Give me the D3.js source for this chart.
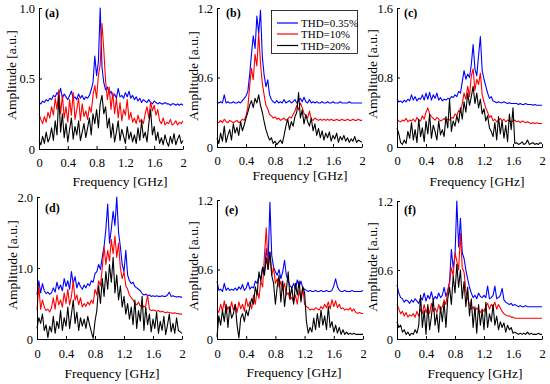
<!DOCTYPE html>
<html>
<head>
<meta charset="utf-8">
<script src="https://cdn.jsdelivr.net/npm/d3@7"></script>
<style>
  body { margin: 0; background: #fff; }
  svg { display: block; }
  svg text { font-family: "Liberation Serif", "Times New Roman", serif !important; fill: #000; }
</style>
</head>
<body>
<script>
// spectra sampled every 0.025 GHz from 0 to 2 GHz (81 points)
const freqStep = 0.025
const serif = '"Liberation Serif", "Times New Roman", serif'
const seriesNames = ['THD=0.35%', 'THD=10%', 'THD=20%']
const panelLabels = ['(a)', '(b)', '(c)', '(d)', '(e)', '(f)']
const xTickValues = [0, 0.4, 0.8, 1.2, 1.6, 2]
const xTickLabels = ['0', '0.4', '0.8', '1.2', '1.6', '2']
const yMaxes = [1.0, 1.2, 1.6, 2.0, 1.2, 1.2]
const yTickValues = [[0, 0.5, 1.0], [0, 0.6, 1.2], [0, 0.8, 1.6], [0, 1.0, 2.0], [0, 0.6, 1.2], [0, 0.6, 1.2]]
const yTickLabels = [['0', '0.5', '1.0'], ['0', '0.6', '1.2'], ['0', '0.8', '1.6'], ['0', '1.0', '2.0'], ['0', '0.6', '1.2'], ['0', '0.6', '1.2']]

const ampA035 = [0.33,0.32,0.34,0.33,0.35,0.34,0.36,0.35,0.38,0.37,0.40,0.38,0.43,
  0.36,0.39,0.37,0.35,0.38,0.41,0.36,0.37,0.35,0.39,0.36,0.38,0.35,0.37,0.36,0.38,
  0.42,0.47,0.66,0.52,0.62,1.00,0.58,0.47,0.42,0.44,0.39,0.41,
  0.37,0.39,0.36,0.43,0.37,0.38,0.36,0.40,0.37,0.41,0.36,0.38,
  0.35,0.37,0.34,0.36,0.33,0.35,0.34,0.33,0.35,0.33,0.32,0.34,
  0.33,0.32,0.33,0.32,0.32,0.33,0.32,0.32,0.31,0.32,0.32,0.31,0.32,0.31,0.32,0.31]
const ampA10 = [0.25,0.21,0.18,0.23,0.19,0.26,0.22,0.30,0.24,0.36,0.28,0.42,0.25,
  0.38,0.22,0.30,0.19,0.35,0.24,0.40,0.21,0.28,0.36,0.20,0.32,0.23,0.27,0.21,0.30,
  0.26,0.38,0.45,0.36,0.52,0.60,0.89,0.70,0.48,0.35,0.44,0.28,
  0.40,0.25,0.36,0.22,0.33,0.20,0.28,0.24,0.35,0.21,0.26,0.19,
  0.22,0.18,0.24,0.19,0.21,0.18,0.25,0.30,0.22,0.33,0.27,0.31,
  0.24,0.28,0.20,0.18,0.22,0.17,0.19,0.18,0.21,0.17,0.18,0.20,0.17,0.19,0.18,0.20]
const ampA20 = [0.06,0.03,0.09,0.04,0.12,0.05,0.08,0.15,0.06,0.20,0.10,0.38,0.12,
  0.25,0.08,0.18,0.05,0.14,0.22,0.07,0.16,0.10,0.20,0.06,0.12,0.18,0.08,0.15,0.22,
  0.10,0.25,0.18,0.28,0.15,0.32,0.38,0.25,0.30,0.15,0.22,0.08,
  0.18,0.05,0.12,0.20,0.06,0.14,0.09,0.04,0.16,0.07,0.12,0.05,
  0.10,0.04,0.15,0.06,0.20,0.08,0.12,0.05,0.18,0.28,0.10,0.16,
  0.06,0.12,0.04,0.08,0.03,0.10,0.05,0.02,0.09,0.04,0.11,0.03,0.07,0.10,0.04,0.06]

const ampB035 = [0.39,0.38,0.39,0.38,0.45,0.38,0.39,0.38,0.38,0.39,0.38,0.38,0.39,
  0.38,0.40,0.42,0.44,
  0.48,0.62,0.80,0.96,0.85,1.13,0.98,1.18,0.78,0.62,0.52,0.58,0.45,0.41,
  0.39,0.38,0.40,0.38,0.39,0.38,0.41,0.38,0.39,0.40,
  0.38,0.39,0.41,0.38,0.40,0.42,0.39,0.43,0.39,0.38,
  0.41,0.38,0.39,0.38,0.39,0.38,0.38,0.39,0.38,0.38,
  0.39,0.38,0.38,0.39,0.38,0.38,0.38,0.39,0.38,0.38,
  0.38,0.38,0.39,0.38,0.38,0.38,0.38,0.38,0.38,0.38]
const ampB10 = [0.22,0.21,0.23,0.21,0.24,0.22,0.21,0.23,0.22,0.21,0.22,0.23,0.21,
  0.22,0.24,0.23,0.27,
  0.34,0.52,0.68,0.58,0.80,0.70,0.98,0.72,0.55,0.45,0.36,0.33,0.28,0.27,
  0.25,0.26,0.24,0.25,0.23,0.24,0.25,0.23,0.24,0.26,
  0.25,0.28,0.31,0.36,0.32,0.38,0.34,0.29,0.27,0.25,
  0.31,0.24,0.23,0.25,0.24,0.23,0.24,0.23,0.24,0.23,
  0.24,0.23,0.24,0.23,0.23,0.24,0.23,0.23,0.24,0.23,
  0.23,0.24,0.23,0.23,0.24,0.23,0.23,0.24,0.23,0.23]
const ampB20 = [0.08,0.03,0.12,0.05,0.18,0.04,0.10,0.15,0.06,0.20,0.12,0.17,0.10,
  0.22,0.14,0.19,0.25,
  0.30,0.36,0.40,0.34,0.42,0.38,0.45,0.36,0.30,0.22,0.15,0.10,0.06,0.08,
  0.03,0.05,0.02,0.04,0.06,0.03,0.10,0.18,0.24,0.15,
  0.22,0.18,0.26,0.30,0.47,0.25,0.32,0.20,0.28,0.22,
  0.18,0.25,0.14,0.20,0.10,0.16,0.08,0.14,0.06,0.12,
  0.08,0.13,0.05,0.10,0.07,0.12,0.04,0.09,0.06,0.10,
  0.05,0.08,0.04,0.07,0.05,0.09,0.04,0.06,0.05,0.04]

const ampC035 = [0.55,0.52,0.53,0.51,0.54,0.52,0.55,0.53,
  0.60,0.54,0.58,0.53,0.56,0.55,0.60,0.54,0.62,0.55,0.63,0.54,0.60,0.56,0.62,0.54,0.57,
  0.53,0.55,0.54,0.56,0.55,0.58,0.57,0.60,
  0.58,0.64,0.62,0.75,0.88,0.78,0.84,0.80,0.95,1.18,0.90,0.82,1.05,1.27,0.88,0.78,0.70,0.62,0.56,0.58,
  0.53,0.52,0.51,0.52,0.51,0.51,0.52,0.51,0.50,0.51,0.50,0.50,
  0.50,0.50,0.49,0.50,0.49,0.49,0.50,0.49,0.49,0.49,0.48,0.49,0.48,0.48,0.48,0.48]
const ampC10 = [0.32,0.30,0.29,0.31,0.30,0.33,0.29,0.31,
  0.30,0.32,0.29,0.34,0.31,0.30,0.36,0.32,0.40,0.45,0.38,0.35,0.33,0.31,0.34,0.32,0.30,
  0.31,0.33,0.30,0.32,0.31,0.34,0.33,0.38,
  0.36,0.42,0.40,0.50,0.62,0.55,0.70,0.58,0.82,0.90,0.65,0.78,0.72,0.85,0.60,0.52,0.45,0.40,0.34,0.36,
  0.30,0.32,0.29,0.31,0.33,0.30,0.32,0.29,0.31,0.30,0.29,0.30,
  0.31,0.29,0.30,0.28,0.30,0.29,0.28,0.29,0.28,0.27,0.28,0.27,0.28,0.27,0.27,0.27]
const ampC20 = [0.22,0.15,0.05,0.03,0.08,0.04,0.18,0.10,
  0.28,0.08,0.20,0.05,0.32,0.12,0.22,0.06,0.30,0.15,0.38,0.10,0.25,0.18,0.08,0.30,0.14,
  0.20,0.12,0.35,0.22,0.55,0.18,0.30,0.24,
  0.36,0.28,0.45,0.32,0.52,0.40,0.62,0.48,0.58,0.70,0.50,0.62,0.45,0.55,0.38,0.44,0.30,0.36,0.22,0.18,
  0.12,0.28,0.08,0.35,0.15,0.30,0.10,0.25,0.06,0.38,0.20,0.45,
  0.04,0.05,0.03,0.04,0.06,0.03,0.04,0.08,0.03,0.04,0.05,0.03,0.04,0.03,0.05,0.04]

const ampD035 = [0.62,0.82,0.65,0.78,0.68,0.64,0.66,0.63,0.65,
  0.72,0.66,0.80,0.70,0.76,0.68,0.85,0.74,0.82,0.70,0.95,0.78,0.88,0.72,0.80,0.74,
  0.70,0.76,0.72,0.78,0.75,0.82,0.80,0.92,
  0.95,1.05,0.98,1.15,1.30,1.55,1.90,1.35,1.55,1.80,1.60,2.00,1.50,1.30,1.05,0.95,1.25,0.90,0.82,0.78,
  0.80,0.74,0.72,0.70,0.68,0.64,0.62,0.63,0.61,0.62,0.60,0.61,
  0.60,0.61,0.60,0.60,0.61,0.60,0.60,0.62,0.66,0.60,0.61,0.60,0.59,0.60,0.59,0.59]
const ampD10 = [0.40,0.75,0.42,0.55,0.45,0.40,0.42,0.38,0.44,
  0.58,0.42,0.62,0.48,0.55,0.45,0.65,0.50,0.70,0.48,0.60,0.82,0.55,0.62,0.48,0.58,
  0.45,0.50,0.46,0.52,0.48,0.55,0.50,0.70,
  0.62,0.82,0.75,1.00,1.30,1.05,1.25,1.10,1.40,1.20,1.45,1.15,1.35,1.00,0.85,0.95,0.75,0.70,0.62,0.58,
  0.55,0.50,0.48,0.52,0.46,0.48,0.45,0.47,0.62,0.42,0.40,0.41,
  0.40,0.39,0.40,0.38,0.39,0.38,0.37,0.38,0.37,0.37,0.36,0.37,0.36,0.36,0.35,0.35]
const ampD20 = [0.15,0.30,0.22,0.35,0.12,0.20,0.02,0.18,0.10,
  0.32,0.08,0.25,0.15,0.40,0.12,0.30,0.18,0.45,0.15,0.35,0.55,0.22,0.38,0.12,0.30,
  0.18,0.28,0.15,0.32,0.20,0.10,0.01,0.25,
  0.40,0.75,0.50,0.85,0.60,0.95,0.70,1.05,0.80,1.15,0.65,0.90,0.55,0.75,0.45,0.60,0.35,0.50,0.28,0.45,
  0.20,0.55,0.15,0.40,0.25,0.60,0.12,0.45,0.20,0.35,0.10,0.28,
  0.15,0.38,0.08,0.25,0.12,0.32,0.06,0.20,0.35,0.10,0.22,0.08,0.30,0.12,0.10,0.08]

const ampE035 = [0.50,0.42,0.43,0.41,0.48,0.42,0.44,0.42,0.43,
  0.42,0.44,0.42,0.45,0.43,0.47,0.42,0.44,0.49,0.43,0.45,0.44,0.50,0.48,0.55,0.52,
  0.62,0.58,0.78,0.65,1.18,0.72,0.62,0.58,
  0.55,0.60,0.52,0.58,0.68,0.55,0.50,0.46,0.44,0.48,0.43,0.51,0.45,0.50,0.44,0.43,0.42,0.41,0.42,0.41,
  0.41,0.42,0.41,0.41,0.42,0.41,0.41,0.42,0.41,0.41,0.42,0.46,
  0.52,0.45,0.42,0.41,0.41,0.42,0.41,0.41,0.41,0.42,0.41,0.41,0.41,0.41,0.41,0.42]
const ampE10 = [0.25,0.23,0.30,0.24,0.33,0.22,0.28,0.24,0.32,
  0.25,0.30,0.23,0.32,0.26,0.30,0.24,0.35,0.28,0.32,0.26,0.38,0.30,0.42,0.35,0.50,
  0.45,0.72,0.96,0.60,0.75,0.55,0.62,0.48,
  0.52,0.45,0.50,0.42,0.48,0.38,0.40,0.34,0.36,0.32,0.38,0.30,0.42,0.35,0.45,0.30,0.28,0.27,0.25,0.26,
  0.25,0.27,0.26,0.25,0.28,0.26,0.30,0.27,0.32,0.26,0.34,0.28,
  0.33,0.27,0.30,0.26,0.27,0.25,0.26,0.25,0.27,0.24,0.26,0.23,0.22,0.23,0.22,0.22]
const ampE20 = [0.02,0.20,0.12,0.25,0.15,0.30,0.10,0.28,0.18,
  0.22,0.30,0.12,0.01,0.18,0.22,0.15,0.25,0.20,0.28,0.35,0.30,0.45,0.38,0.58,0.50,
  0.62,0.55,0.70,0.60,0.75,0.55,0.48,0.30,
  0.45,0.55,0.32,0.50,0.28,0.42,0.58,0.35,0.45,0.30,0.48,0.38,0.50,0.32,0.45,0.40,0.15,0.05,0.10,0.06,
  0.18,0.08,0.22,0.10,0.25,0.12,0.20,0.08,0.28,0.10,0.15,0.06,
  0.12,0.05,0.10,0.04,0.08,0.04,0.06,0.04,0.05,0.04,0.05,0.04,0.04,0.04,0.04,0.04]

const ampF035 = [0.47,0.40,0.36,0.35,0.32,0.34,0.33,0.31,0.34,
  0.32,0.35,0.33,0.31,0.36,0.34,0.40,0.33,0.38,0.35,0.41,0.34,0.37,0.35,0.40,0.36,
  0.38,0.45,0.37,0.42,
  0.50,0.78,0.62,0.72,1.20,0.80,1.05,0.75,0.70,0.60,0.52,0.45,
  0.40,0.36,0.38,0.35,0.40,0.37,0.36,0.38,0.36,0.46,0.35,0.36,
  0.38,0.46,0.35,0.36,0.38,0.44,0.34,0.32,0.31,0.30,0.31,0.29,
  0.30,0.29,0.28,0.29,0.28,0.28,0.29,0.28,0.28,0.28,0.28,0.28,0.28,0.28,0.28,0.28]
const ampF10 = [0.30,0.26,0.22,0.24,0.20,0.23,0.19,0.21,0.20,
  0.22,0.19,0.24,0.20,0.26,0.22,0.30,0.23,0.28,0.22,0.31,0.24,0.27,0.23,0.30,0.25,
  0.28,0.34,0.30,0.42,
  0.48,0.62,0.55,0.75,0.68,0.60,0.92,0.62,0.58,0.42,0.35,0.30,
  0.26,0.28,0.24,0.27,0.25,0.23,0.26,0.24,0.28,0.31,0.26,0.30,
  0.28,0.32,0.26,0.30,0.27,0.24,0.22,0.21,0.20,0.20,0.19,0.19,
  0.18,0.18,0.18,0.18,0.18,0.18,0.18,0.18,0.18,0.18,0.18,0.18,0.18,0.18,0.18,0.18]
const ampF20 = [0.15,0.10,0.12,0.06,0.08,0.04,0.06,0.03,0.05,
  0.04,0.08,0.05,0.12,0.38,0.10,0.25,0.04,0.30,0.08,0.20,0.35,0.12,0.22,0.06,0.28,
  0.15,0.32,0.10,0.35,
  0.45,0.30,0.55,0.40,0.65,0.45,0.60,0.35,0.50,0.28,0.45,0.20,
  0.35,0.10,0.28,0.05,0.30,0.12,0.25,0.08,0.32,0.10,0.22,0.15,
  0.30,0.12,0.20,0.08,0.15,0.10,0.14,0.06,0.12,0.08,0.10,0.05,
  0.06,0.05,0.04,0.05,0.04,0.05,0.04,0.06,0.04,0.05,0.04,0.04,0.04,0.05,0.04,0.04]

const panelSeries = [
  [ampA035, ampA10, ampA20],
  [ampB035, ampB10, ampB20],
  [ampC035, ampC10, ampC20],
  [ampD035, ampD10, ampD20],
  [ampE035, ampE10, ampE20],
  [ampF035, ampF10, ampF20]
]

// layout of each small plot (pixels)
const boxes = [
  { left: 39, right: 183, top: 8, bottom: 149, xtY: 186, xtX: 120, ytX: 11, ytY: 75, lx: 45, ly: 17, pad: 10 },
  { left: 217, right: 362, top: 8, bottom: 147, xtY: 180, xtX: 300, ytX: 193, ytY: 76, lx: 226, ly: 17, pad: 10 },
  { left: 397, right: 542, top: 8, bottom: 147, xtY: 186, xtX: 477, ytX: 372, ytY: 74, lx: 404, ly: 17, pad: 10 },
  { left: 37, right: 182, top: 197, bottom: 339, xtY: 378, xtX: 112, ytX: 12, ytY: 265, lx: 45, ly: 212, pad: 11 },
  { left: 217, right: 363, top: 200, bottom: 339, xtY: 377, xtX: 294, ytX: 193, ytY: 266, lx: 225, ly: 214, pad: 11 },
  { left: 397, right: 542, top: 201, bottom: 339, xtY: 378, xtX: 475, ytX: 372, ytY: 267, lx: 404, ly: 214, pad: 11 }
]
const colors = ['#0000ff', '#ff0000', '#000000']

const svg = d3.select('body').append('svg')
    .attr('width', 550)
    .attr('height', 384)
    .attr('font-family', serif)

boxes.forEach(function (b, p) {
    const x = d3.scaleLinear().domain([0, 2]).range([b.left, b.right])
    const y = d3.scaleLinear().domain([0, yMaxes[p]]).range([b.bottom, b.top])
    const g = svg.append('g')

    const line = d3.line()
        .x((d, i) => x(i * freqStep))
        .y(d => y(d))

    panelSeries[p].forEach(function (vals, s) {
        g.append('path')
            .datum(vals)
            .attr('fill', 'none')
            .attr('stroke', colors[s])
            .attr('stroke-width', 1.1)
            .attr('stroke-linejoin', 'round')
            .attr('d', line)
    })

    g.append('g')
        .attr('transform', 'translate(0,' + b.bottom + ')')
        .call(d3.axisBottom(x)
            .tickValues(xTickValues)
            .tickFormat((d, i) => xTickLabels[i])
            .tickSizeInner(-3)
            .tickSizeOuter(0)
            .tickPadding(b.pad - 1))
        .attr('font-family', serif)
        .attr('font-size', 12.5)
    g.append('g')
        .attr('transform', 'translate(' + b.left + ',0)')
        .call(d3.axisLeft(y)
            .tickValues(yTickValues[p])
            .tickFormat((d, i) => yTickLabels[p][i])
            .tickSizeInner(-3)
            .tickSizeOuter(0)
            .tickPadding(4))
        .attr('font-family', serif)
        .attr('font-size', 12.5)

    g.selectAll('.tick text').attr('fill', '#000')
    g.selectAll('.domain, .tick line').attr('stroke', '#000')

    g.append('text')
        .attr('x', b.xtX)
        .attr('y', b.xtY)
        .attr('text-anchor', 'middle')
        .attr('font-family', serif)
        .attr('font-size', 13.5)
        .text('Frequency [GHz]')

    g.append('text')
        .attr('transform', 'translate(' + b.ytX + ',' + b.ytY + ') rotate(-90)')
        .attr('text-anchor', 'middle')
        .attr('dy', '0.35em')
        .attr('font-family', serif)
        .attr('font-size', 13.5)
        .text('Amplitude [a.u.]')

    g.append('text')
        .attr('x', b.lx)
        .attr('y', b.ly)
        .attr('font-family', serif)
        .attr('font-size', 12)
        .attr('font-weight', 'bold')
        .text(panelLabels[p])
})

// legend, only in panel (b)
const leg = svg.append('g')
leg.append('rect')
    .attr('x', 271.5).attr('y', 10.5)
    .attr('width', 86).attr('height', 43)
    .attr('fill', '#fff')
    .attr('stroke', '#000')
    .attr('stroke-width', 0.8)
seriesNames.forEach(function (name, s) {
    const ly = [23, 34, 45.5][s]
    leg.append('line')
        .attr('x1', 277).attr('x2', 298)
        .attr('y1', ly).attr('y2', ly)
        .attr('stroke', colors[s])
        .attr('stroke-width', 1.2)
    leg.append('text')
        .attr('x', 301)
        .attr('y', ly + 4)
        .attr('font-family', serif)
        .attr('font-size', 11)
        .text(name)
})
</script>
</body>
</html>
